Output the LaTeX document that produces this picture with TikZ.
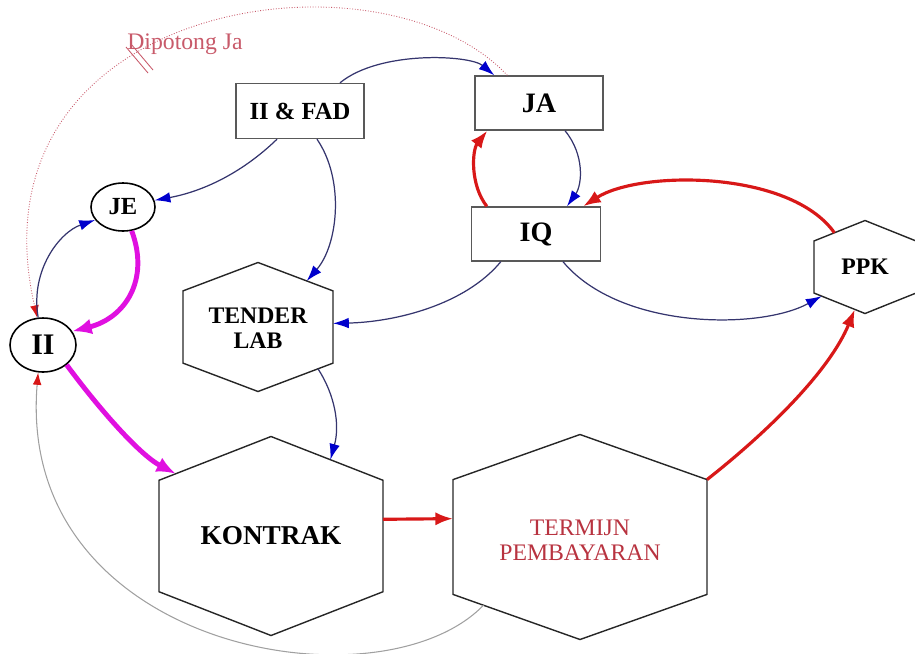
\documentclass[tikz,border=0pt]{standalone}
\usepackage{fontspec}
\setmainfont{Liberation Serif}
\usetikzlibrary{arrows.meta,calc,shapes.geometric}
\definecolor{navy}{HTML}{35356E}
\definecolor{arrblue}{HTML}{0000CC}
\definecolor{redc}{HTML}{D81818}
\definecolor{magc}{HTML}{E010E0}
\definecolor{termc}{HTML}{B83340}
\definecolor{dotc}{HTML}{C85A6A}
\definecolor{grayc}{HTML}{A0A0A0}
\newcommand{\mkhex}[5]{%
 \coordinate (#1-n) at (#2,{#3-#5});
 \coordinate (#1-ne) at ({#2+#4},{#3-0.56*#5});
 \coordinate (#1-se) at ({#2+#4},{#3+0.56*#5});
 \coordinate (#1-s) at (#2,{#3+#5});
 \coordinate (#1-sw) at ({#2-#4},{#3+0.56*#5});
 \coordinate (#1-nw) at ({#2-#4},{#3-0.56*#5});
 \draw[hexline] (#1-n) -- (#1-ne) -- (#1-se) -- (#1-s) -- (#1-sw) -- (#1-nw) -- cycle;
}
\begin{document}
\begin{tikzpicture}[x=0.02cm,y=-0.02cm,
 hexline/.style={draw=black!85, line width=0.8pt, line join=miter},
 boxnode/.style={draw=black!65, line width=0.8pt, fill=white, minimum width=2.56cm, minimum height=1.1cm, inner sep=0pt, font=\bfseries\fontsize{14pt}{16pt}\selectfont},
 ellnode/.style={draw=black, line width=0.9pt, ellipse, inner sep=0pt, font=\bfseries\fontsize{14pt}{16pt}\selectfont},
 hextext/.style={align=center, inner sep=0pt, font=\bfseries\fontsize{13.5pt}{14pt}\selectfont},
 bluearr/.style={draw=navy, line width=0.7pt, -{Latex[length=9pt,width=6pt,color=arrblue]}},
 redarr/.style={draw=redc, line width=1.8pt, -{Latex[length=10pt,width=7.5pt]}},
 magarr/.style={draw=magc, line width=2.8pt, -{Latex[length=11pt,width=9pt]}},
 dotarr/.style={draw=dotc, line width=0.5pt, densely dotted, -{Latex[length=7pt,width=5pt,color=redc]}},
 grayarr/.style={draw=grayc, line width=0.6pt, -{Latex[length=7pt,width=5pt,color=redc]}}
]
\useasboundingbox (0,0) rectangle (915,653);

% box nodes
\node[boxnode] (fad) at (300,111) {II \& FAD};
\node[boxnode, minimum height=1.08cm, font=\bfseries\fontsize{16pt}{18pt}\selectfont] (ja) at (539,103) {JA};
\node[boxnode, minimum width=2.58cm, minimum height=1.08cm, font=\bfseries\fontsize{16pt}{18pt}\selectfont] (iq) at (536,234) {IQ};

% ellipse nodes
\node[ellnode, minimum width=1.28cm, minimum height=0.96cm] (je) at (123,207) {JE};
\node[ellnode, minimum width=1.32cm, minimum height=1.08cm, font=\bfseries\fontsize{17pt}{19pt}\selectfont] (ii) at (43,345) {II};

% hexagons
\mkhex{ten}{258}{327}{75}{64.5}
\node[hextext] (tender) at (258,328) {TENDER\\LAB};
\mkhex{kon}{271}{536}{112}{99.5}
\node[hextext, font=\bfseries\fontsize{15.5pt}{17pt}\selectfont] (kontrak) at (271,536) {KONTRAK};
\mkhex{ter}{580}{537}{127}{102.5}
\node[hextext, font=\fontsize{13.5pt}{14pt}\selectfont, text=termc] (termijn) at (580,540) {TERMIJN\\PEMBAYARAN};
\mkhex{ppk}{865}{267}{51}{46.5}
\node[hextext, font=\bfseries\fontsize{13.5pt}{15pt}\selectfont] (ppkt) at (865,267) {PPK};

% dotted arc JA -> II with label
\draw[dotarr] ($(ja.north west)+(33,0)$) .. controls (380,-60) and (-35,0) .. (ii.102);
\coordinate (cut1a) at (126,47); \coordinate (cut1b) at (148,73);
\coordinate (cut2a) at (131,44); \coordinate (cut2b) at (153,70);
\draw[dotc, line width=0.5pt] (cut1a) -- (cut1b);
\draw[dotc, line width=0.5pt] (cut2a) -- (cut2b);
\node[text=dotc, font=\fontsize{13.5pt}{15pt}\selectfont, anchor=west, inner sep=0pt] (dip) at (127,44) {Dipotong Ja};

% gray arc TERMIJN -> II
\draw[grayarr] ($(ter-sw)!0.24!(ter-s)$) .. controls (380,712) and (15,650) .. (ii.-100);

% blue connectors
\draw[bluearr] ($(fad.north)+(40,0)$) .. controls (380,50) and (470,55) .. ($(ja.north west)+(20,0)$);
\draw[bluearr] ($(fad.south)+(-23,0)$) .. controls (240,175) and (200,192) .. (je.12);
\draw[bluearr] ($(fad.south)+(17,0)$) .. controls (345,180) and (338,245) .. ($(ten-n)!0.65!(ten-ne)$);
\draw[bluearr] ($(ja.south)+(26,0)$) .. controls (585,155) and (582,185) .. ($(iq.north)+(31,0)$);
\draw[bluearr] ($(iq.south)+(27,0)$) .. controls (620,330) and (760,330) .. ($(ppk-sw)!0.15!(ppk-s)$);
\draw[bluearr] ($(iq.south west)+(30,0)$) .. controls (465,305) and (395,322) .. ($(ten-ne)!0.45!(ten-se)$);
\draw[bluearr] ($(ten-se)!0.2!(ten-s)$) .. controls (335,395) and (340,425) .. ($(kon-n)!0.53!(kon-ne)$);
\draw[bluearr] (ii.100) .. controls (30,270) and (60,232) .. (je.205);

% red connectors
\draw[redarr] ($(iq.north west)+(16,0)$) .. controls (470,185) and (472,150) .. ($(ja.south west)+(13,0)$);
\draw[redarr] ($(ppk-n)!0.6!(ppk-nw)$) .. controls (790,170) and (640,170) .. ($(iq.north east)+(-18,0)$);
\draw[redarr] ($(kon-ne)!0.35!(kon-se)$) -- ($(ter-nw)!0.34!(ter-sw)$);
\draw[redarr] (ter-ne) .. controls (770,430) and (830,370) .. ($(ppk-sw)!0.8!(ppk-s)$);

% magenta connectors
\draw[magarr] (je.-70) .. controls (150,280) and (125,318) .. (ii.25);
\draw[magarr] (ii.-40) .. controls (100,410) and (140,455) .. ($(kon-nw)!0.15!(kon-n)$);
\end{tikzpicture}
\end{document}
